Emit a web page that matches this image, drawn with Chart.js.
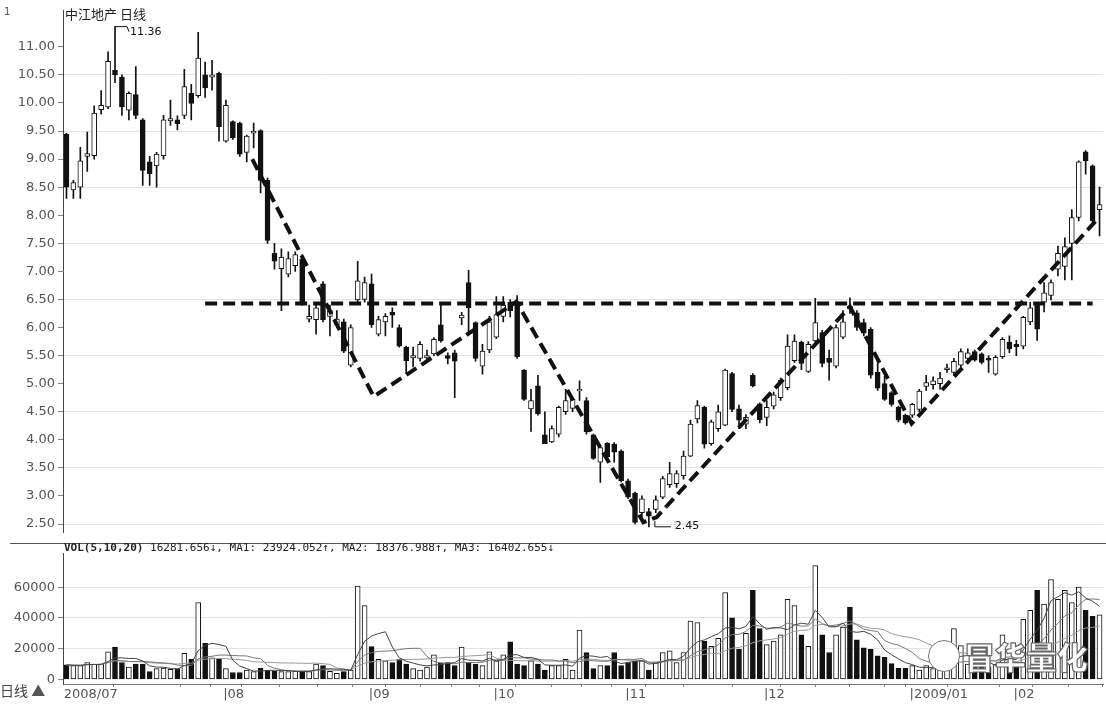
<!DOCTYPE html>
<html>
<head>
<meta charset="utf-8">
<script src="https://cdn.jsdelivr.net/npm/chart.js@4.4.0/dist/chart.umd.min.js"></script>
<style>
  body { margin: 0; background: #fff; width: 1106px; height: 706px; position: relative; overflow: hidden; font-family: "DejaVu Sans", sans-serif; }
  canvas { position: absolute; left: 0; }
  #price { top: 0; }
  #vol { top: 543px; }
  .sep { position: absolute; left: 10px; top: 543px; width: 1096px; border-top: 1px solid #555; }
  .txt { position: absolute; white-space: nowrap; color: #222; }
  .logo { position: absolute; left: 928px; top: 640px; width: 30px; height: 30px; border-radius: 50%; background: #fff; border: 1.5px solid #777; }
</style>
</head>
<body>
<canvas id="price" width="1106" height="543"></canvas>
<canvas id="vol" width="1106" height="163"></canvas>
<div class="sep"></div>
<div class="txt" style="left:4px;top:6px;font-size:10px;color:#555">1</div>
<div class="txt" style="left:65px;top:5px;font-size:13px;font-family:'Noto Sans CJK SC';line-height:18px">中江地产 日线</div>
<div class="txt" style="left:64px;top:541px;font-size:11px;font-family:'DejaVu Sans Mono';line-height:14px"><b>VOL(5,10,20)</b> 16281.656↓, MA1: 23924.052↑, MA2: 18376.988↑, MA3: 16402.655↓</div>
<div class="txt" style="left:0px;top:681px;font-size:14px;font-family:'Noto Sans CJK SC';color:#444;line-height:18px">日线 <span style="color:#555">▲</span></div>
<div class="logo"></div>
<div class="txt" style="left:964px;top:634px;font-size:31px;font-family:'Noto Sans CJK SC';font-weight:900;color:#fff;-webkit-text-stroke:1.2px #666;line-height:44px">冒华量化</div>
<script>
// daily candles, 2008/07 - 2009/02
const opens = [9.44,8.45,8.5,9.05,9.06,9.88,9.93,10.58,10.46,9.87,
  10.15,9.70,8.95,8.88,9.06,9.68,9.70,9.78,10.17,10.13,
  10.50,10.46,10.53,9.32,9.67,9.64,9.12,9.46,9.51,8.62,
  7.32,7.05,6.95,7.10,7.22,6.15,6.14,6.78,6.20,6.05,
  6.10,5.33,6.49,6.50,6.78,5.88,6.10,6.27,6.00,5.65,
  5.46,5.45,5.46,5.53,6.05,5.50,5.55,6.17,6.80,6.09,
  5.31,5.60,5.83,6.20,6.45,6.45,5.24,4.55,4.96,4.09,
  3.96,4.10,4.50,4.56,4.87,4.70,4.09,3.60,3.94,3.92,
  3.80,3.27,3.05,2.70,2.72,2.76,2.98,3.20,3.22,3.36,
  3.71,4.37,4.58,3.93,4.20,4.26,5.18,4.55,4.28,5.15,
  4.64,4.40,4.60,4.75,4.93,5.41,5.74,5.22,5.76,5.91,
  5.45,5.31,5.83,6.38,6.26,6.09,5.97,5.20,5.00,4.84,
  4.58,4.44,4.44,4.54,4.95,4.98,5.00,5.25,5.20,5.33,
  5.45,5.57,5.53,5.45,5.17,5.48,5.74,5.70,5.67,6.10,
  6.40,6.45,6.57,7.04,7.09,7.50,7.96,9.13,8.88,8.10];
const highs = [9.46,8.62,9.21,9.48,9.95,10.22,10.91,11.36,10.50,10.20,
  10.65,9.72,9.05,9.12,9.78,10.05,9.77,10.60,10.33,11.26,
  10.73,10.76,10.55,10.05,9.68,9.66,9.43,9.64,9.52,8.66,
  7.50,7.40,7.35,7.35,7.30,6.40,6.40,6.82,6.40,6.30,
  6.15,6.05,7.18,6.90,6.95,6.20,6.25,6.35,6.05,5.67,
  5.65,5.75,5.60,5.82,6.43,5.55,5.60,6.27,7.02,6.10,
  5.70,6.20,6.55,6.55,6.50,6.57,5.25,4.90,5.15,4.50,
  4.25,4.60,4.90,4.75,5.05,4.75,4.10,3.90,3.95,3.95,
  3.82,3.30,3.07,3.00,2.78,3.00,3.35,3.60,3.45,3.80,
  4.35,4.70,4.60,4.35,4.62,5.26,5.20,4.62,4.45,5.18,
  4.66,4.70,4.85,5.10,5.87,5.87,5.76,5.75,6.52,5.95,
  5.60,6.05,6.30,6.53,6.30,6.15,6.00,5.41,5.13,4.86,
  4.60,4.46,4.65,4.90,5.15,5.12,5.20,5.35,5.45,5.62,
  5.62,5.60,5.55,5.50,5.50,5.82,5.85,5.77,6.20,6.45,
  6.42,6.80,6.85,7.45,7.60,8.10,8.97,9.15,8.90,8.50];
const lows = [8.30,8.30,8.30,8.78,9.00,9.80,9.90,10.36,9.78,9.70,
  9.72,8.53,8.53,8.50,9.00,9.60,9.52,9.72,9.70,10.10,
  10.10,10.23,9.32,9.30,9.35,9.05,8.95,9.20,8.40,7.50,
  7.04,6.30,6.90,7.00,6.40,6.10,5.88,6.10,5.85,6.00,
  5.55,5.30,6.45,6.45,6.00,5.85,5.85,6.00,5.65,5.18,
  5.30,5.40,5.40,5.50,5.74,5.35,4.75,6.05,5.93,5.40,
  5.17,5.55,5.80,6.10,6.19,5.45,4.70,4.15,4.44,3.93,
  3.95,4.05,4.45,4.50,4.70,4.10,3.65,3.24,3.65,3.60,
  3.25,2.95,2.50,2.60,2.45,2.70,2.95,3.15,3.15,3.30,
  3.70,4.30,3.85,3.90,4.15,4.25,4.50,4.20,4.20,4.94,
  4.30,4.25,4.55,4.70,4.89,5.38,5.25,5.20,5.74,5.30,
  5.06,5.28,5.80,6.25,5.95,5.85,5.10,4.88,4.70,4.60,
  4.32,4.28,4.40,4.50,4.88,4.90,4.90,5.20,5.15,5.30,
  5.40,5.40,5.35,5.20,5.15,5.45,5.55,5.50,5.62,6.05,
  5.77,6.28,6.49,6.92,6.85,6.85,7.90,8.73,7.88,7.63];
const closes = [8.50,8.58,8.97,9.10,9.82,9.96,10.74,10.50,9.93,10.17,
  9.78,8.80,8.74,9.09,9.70,9.72,9.63,10.29,9.99,10.80,
  10.27,10.50,9.58,9.96,9.38,9.09,9.41,9.50,8.62,7.55,
  7.18,7.25,7.23,7.30,6.45,6.20,6.35,6.14,6.30,6.15,
  5.58,6.00,6.83,6.80,6.05,6.14,6.20,6.22,5.67,5.41,
  5.50,5.70,5.50,5.79,5.76,5.45,5.40,6.22,6.35,5.45,
  5.58,6.10,6.23,6.40,6.30,5.48,4.72,4.70,4.46,3.93,
  4.20,4.58,4.70,4.72,4.90,4.14,3.67,3.86,3.70,3.78,
  3.27,2.98,2.53,2.95,2.64,2.93,3.31,3.40,3.40,3.71,
  4.28,4.61,3.92,4.32,4.50,5.24,4.54,4.35,4.40,4.96,
  4.36,4.58,4.80,5.06,5.67,5.76,5.36,5.70,6.09,5.36,
  5.38,6.00,6.10,6.33,6.00,5.90,5.15,4.92,4.72,4.63,
  4.35,4.30,4.63,4.87,5.02,5.05,5.10,5.28,5.40,5.57,
  5.55,5.42,5.38,5.42,5.47,5.79,5.62,5.66,6.18,6.35,
  5.97,6.62,6.80,7.32,7.44,7.96,8.95,8.97,7.90,8.19];
const volumes = [9400,9000,9000,11000,10000,10000,18000,21000,11000,8000,
  10000,10000,5000,7000,7400,6500,7000,17000,13000,50000,
  23400,14000,13000,7000,4500,4500,6000,5000,7400,6000,
  5300,5000,5000,5300,5300,5000,10000,9000,5300,4000,
  5000,6000,60700,48000,21300,13000,12000,11000,13000,10000,
  7000,6000,8000,16000,10700,11000,9000,21000,11000,10000,
  9000,18000,12000,16000,24400,10000,9000,12000,10000,6000,
  9000,9000,13000,6000,32000,17500,7000,9000,9000,17500,
  9000,11000,12000,12000,6000,11000,17500,18500,11000,17500,
  38000,37000,25000,21500,26700,56500,40000,19500,30000,58000,
  33000,22600,25000,29000,52000,48000,29000,21500,74000,29000,
  17500,29000,34000,47000,25700,20500,19500,15400,14400,10300,
  7200,7200,9000,6000,9000,7000,6000,7000,33000,22000,
  10000,9000,8000,8000,10000,29000,10000,8000,39000,45000,
  58000,49000,65000,52000,58000,50000,60000,45000,41000,42000];

// axis labels
const monthIdx = [0, 23, 44, 62, 81, 101, 122, 137];
const monthLabels = ['2008/07', '|08', '|09', '|10', '|11', '|12', '|2009/01', '|02'];
const weekIdx = [14, 19, 28, 33.5, 39, 48.5, 53.5, 57.5, 68, 72, 76.5, 86.5, 91.5, 105.5, 110.5, 115.5, 120.5, 132.5, 142, 147];
const priceTicks = [2.5, 3, 3.5, 4, 4.5, 5, 5.5, 6, 6.5, 7, 7.5, 8, 8.5, 9, 9.5, 10, 10.5, 11];
const volTicks = [0, 20000, 40000, 60000];

// hand-drawn pattern lines (index, price)
const neckX = [20, 148];
const neckY = [6.43, 6.43];
const trendX = [26.8, 44.3, 64.9, 83.2, 85.1, 113.0, 121.9, 148.4];
const trendY = [9.0, 4.77, 6.46, 2.53, 2.62, 6.37, 4.29, 7.89];

const n = closes.length;
const isUp = i => closes[i] >= opens[i];
const ink = '#111';

function ma(k) {
  return volumes.map((v, i) => {
    const s = volumes.slice(Math.max(0, i - k + 1), i + 1);
    return s.reduce((a, b) => a + b, 0) / s.length;
  });
}

const xBase = { type: 'linear', min: -0.5, max: n - 0.5, offset: false, grid: { display: false, offset: false } };
const yFit = s => { s.width = 63; };
const font = { family: 'DejaVu Sans', size: 13 };

const marks = {
  id: 'marks',
  afterDatasetsDraw(chart) {
    const { ctx, scales: { x, y } } = chart;
    const hi = highs.indexOf(Math.max(...highs));
    const lo = lows.indexOf(Math.min(...lows));
    ctx.save();
    ctx.strokeStyle = ink; ctx.fillStyle = ink; ctx.lineWidth = 1;
    ctx.font = '11px "DejaVu Sans"';
    ctx.textBaseline = 'middle';
    let px = x.getPixelForValue(hi), py = y.getPixelForValue(highs[hi]);
    ctx.beginPath(); ctx.moveTo(px, py); ctx.lineTo(px + 12, py); ctx.lineTo(px + 14, py + 5); ctx.stroke();
    ctx.fillText(highs[hi].toFixed(2), px + 15, py + 6);
    px = x.getPixelForValue(lo); py = y.getPixelForValue(lows[lo]);
    ctx.beginPath(); ctx.moveTo(px + 6, py - 6); ctx.lineTo(px + 6, py); ctx.lineTo(px + 22, py); ctx.stroke();
    ctx.fillText(lows[lo].toFixed(2), px + 26, py - 1);
    ctx.restore();
  }
};

new Chart(document.getElementById('price'), {
  type: 'bar',
  data: {
    datasets: [
      {
        type: 'line', data: neckX.map((v, i) => ({ x: v, y: neckY[i] })),
        borderColor: ink, borderWidth: 4, borderDash: [12, 6], pointRadius: 0, order: 0
      },
      {
        type: 'line', data: trendX.map((v, i) => ({ x: v, y: trendY[i] })),
        borderColor: ink, borderWidth: 4, borderDash: [12, 6], pointRadius: 0, order: 0
      },
      {
        data: opens.map((o, i) => ({ x: i, y: [o, closes[i]] })),
        backgroundColor: opens.map((o, i) => isUp(i) ? '#fff' : ink),
        borderColor: ink, borderWidth: 1, borderSkipped: false,
        barThickness: 5, grouped: false, order: 1
      },
      {
        data: lows.map((l, i) => ({ x: i, y: [l, highs[i]] })),
        backgroundColor: ink, barThickness: 1, grouped: false, order: 2
      }
    ]
  },
  options: {
    responsive: false, animation: false,
    layout: { padding: { top: 8, right: 3, bottom: 0, left: 0 } },
    plugins: { legend: { display: false }, tooltip: { enabled: false } },
    scales: {
      x: { ...xBase, display: false },
      y: {
        min: 2.354, max: 11.642,
        afterBuildTicks: s => { s.ticks = priceTicks.map(v => ({ value: v })); },
        afterFit: yFit,
        border: { color: '#444', width: 1 },
        grid: {
          color: c => (c.tick && c.tick.value % 1 === 0.5) ? '#e3e3e3' : 'rgba(0,0,0,0)',
          tickColor: '#888', tickLength: 5
        },
        ticks: { font, color: '#555', padding: 3, callback: v => v.toFixed(2) }
      }
    }
  },
  plugins: [marks]
});

new Chart(document.getElementById('vol'), {
  type: 'bar',
  data: {
    datasets: [
      { type: 'line', data: ma(5).map((v, i) => ({ x: i, y: v })), borderColor: '#444', borderWidth: 1, pointRadius: 0, order: 0 },
      { type: 'line', data: ma(10).map((v, i) => ({ x: i, y: v })), borderColor: '#777', borderWidth: 1, pointRadius: 0, order: 0 },
      { type: 'line', data: ma(20).map((v, i) => ({ x: i, y: v })), borderColor: '#999', borderWidth: 1, pointRadius: 0, order: 0 },
      {
        data: volumes.map((v, i) => ({ x: i, y: v })),
        backgroundColor: volumes.map((v, i) => isUp(i) ? '#fff' : ink),
        borderColor: ink, borderWidth: 1, borderSkipped: false,
        barThickness: 5, grouped: false, order: 1
      }
    ]
  },
  options: {
    responsive: false, animation: false,
    layout: { padding: { top: 0, right: 3, bottom: 0, left: 0 } },
    plugins: { legend: { display: false }, tooltip: { enabled: false } },
    scales: {
      x: {
        ...xBase,
        afterBuildTicks: s => {
          s.ticks = monthIdx.map(v => ({ value: v - 0.4 })).concat(weekIdx.map(v => ({ value: v })))
            .sort((a, b) => a.value - b.value);
        },
        afterFit: s => { s.height = 22; },
        border: { color: '#777', width: 1 },
        grid: { display: true, drawOnChartArea: false, tickLength: 3, tickColor: '#888' },
        ticks: {
          autoSkip: false, maxRotation: 0, align: 'start', padding: 0,
          font: { family: 'DejaVu Sans', size: 13 }, color: '#555',
          callback: v => {
            const k = monthIdx.findIndex(m => Math.abs(m - 0.4 - v) < 0.01);
            return k >= 0 ? monthLabels[k] : '';
          }
        }
      },
      y: {
        min: -3000, max: 81700,
        afterBuildTicks: s => { s.ticks = volTicks.map(v => ({ value: v })); },
        afterFit: yFit,
        border: { color: '#444', width: 1 },
        grid: {
          color: c => (c.tick && c.tick.value > 0) ? '#e3e3e3' : 'rgba(0,0,0,0)',
          tickColor: '#888', tickLength: 5
        },
        ticks: { font, color: '#555', padding: 3, callback: v => String(v) }
      }
    }
  }
});
</script>
</body>
</html>
